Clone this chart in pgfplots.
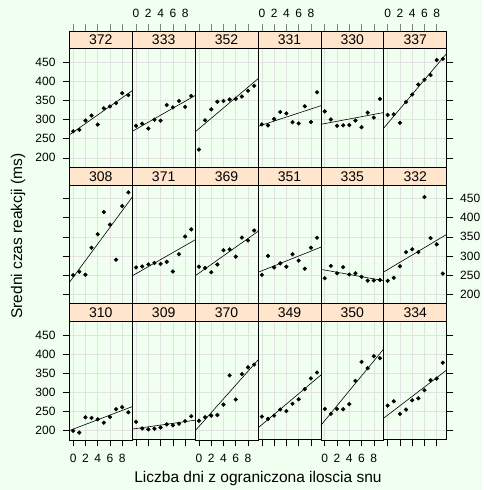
\documentclass[border=0pt]{standalone}
\usepackage{pgfplots}
\pgfplotsset{compat=1.18}
\usepackage{pgfplotstable}
\usepackage{fontspec}
\setmainfont{Liberation Sans}
\definecolor{bg}{RGB}{240,255,240}
\definecolor{stripc}{RGB}{255,229,204}
\definecolor{gridc}{RGB}{226,226,226}

\pgfplotstableread{
Days S308 S309 S310 S330 S331 S332 S333 S334 S335 S337 S349 S350 S351 S352 S369 S370 S371 S372
0 249.5600 222.7339 199.0539 321.5426 287.6079 234.8606 283.8424 264.9922 241.6083 312.3666 236.1032 256.2968 250.5265 221.6771 271.9235 225.2640 269.8804 269.4117
1 258.7047 205.2658 194.3322 300.4002 285.0000 242.8118 289.5550 276.2012 273.9472 313.8058 230.3167 243.4543 300.0576 298.1939 268.4369 234.5235 272.4428 273.4740
2 250.8006 202.9778 234.3200 283.8565 301.8206 272.9613 276.7693 243.3647 254.4907 291.6112 238.9256 256.2046 269.8939 326.8785 257.2424 238.9008 277.8989 297.5968
3 321.4398 204.7070 232.8416 285.1330 320.1153 309.7688 299.8097 254.6723 270.8021 346.1222 254.9220 255.5271 280.5891 346.8555 277.6566 240.4730 281.7895 310.6316
4 356.8519 207.7161 229.3074 285.7973 316.2773 317.4629 297.1710 279.0244 251.4519 365.7324 250.7103 268.9165 271.8274 348.7402 314.8222 267.5373 279.1705 287.1726
5 414.6901 215.9618 220.4579 297.5855 293.3187 309.9976 338.1665 284.1912 254.6362 391.8385 269.7744 329.7247 304.6336 352.8287 317.2135 344.1937 284.5120 329.6076
6 382.2038 213.6303 235.4208 280.2396 290.0750 454.1619 332.0265 305.5248 245.4523 404.2601 281.5648 379.4445 287.7466 354.4266 298.1353 281.1481 259.2658 334.4818
7 290.1486 217.7272 255.7511 318.2613 334.8177 346.8311 348.8399 331.5229 235.3110 416.6923 308.1020 362.9184 266.5955 360.4326 348.1229 347.5855 304.6306 343.2199
8 430.5853 224.2957 261.0125 305.3495 293.7469 330.3003 333.3600 335.7469 235.7541 455.8643 336.2806 394.4872 321.5418 375.6406 340.2800 365.1630 350.7807 369.1417
9 466.3535 237.3142 247.5153 354.0487 371.5811 253.8644 362.0428 377.2990 237.2466 458.9167 351.6451 389.0527 347.5655 388.5417 366.5131 372.2288 369.4692 364.1236
}\sleep

% least-squares line of each subject, evaluated at days -1 and 10
\pgfplotstableread{
x R308 R309 R310 R330 R331 R332 R333 R334 R335 R337 R349 R350 R351 R352 R369 R370 R371 R372
-1 222.43 202.79 197.37 286.68 280.47 254.68 265.88 227.91 265.92 271.08 201.62 206.33 254.71 262.81 243.62 192.39 244.45 255.75
10 461.84 227.67 264.63 319.77 338.40 359.92 366.44 362.69 234.22 480.36 350.05 420.87 325.48 412.04 368.45 391.01 345.52 380.03
}\fit

\pgfplotsset{
  panel/.style={
    scale only axis, width=62.9pt, height=118.5pt, anchor=south west,
    xmin=-0.63, xmax=9.63, ymin=175.3, ymax=485.4,
    xtick={0,2,4,6,8}, ytick={200,250,...,450},
    grid=major, grid style={gridc, line width=0.6pt},
    axis background/.style={fill=bg},
    axis line style={line width=0.8pt},
    tick align=outside, major tick length=6.5pt,
    x tick style={draw=none}, y tick style={draw=none},
    tick style={line width=0.6pt},
    /pgf/number format/assume math mode=true,
    tick label style={font=\fontsize{12}{14}\selectfont},
  },
  strip/.style={
    scale only axis, width=62.9pt, height=17.8pt, anchor=south west,
    xmin=-0.63, xmax=9.63, ymin=0, ymax=1,
    ytick=\empty, xtick=\empty,
    axis background/.style={fill=stripc},
    axis line style={line width=0.8pt},
    tick align=outside, major tick length=6.5pt,
    tick style={line width=0.6pt},
    /pgf/number format/assume math mode=true,
    tick label style={font=\fontsize{12}{14}\selectfont},
  },
  topticks/.style={xtick={0,2,4,6,8}, xtick pos=upper, xticklabel pos=upper,
    xticklabel style={yshift=3.5pt}},
  nox/.style={xticklabel=\empty},
  noy/.style={yticklabel=\empty},
  lefty/.style={ytick pos=left, y tick style={draw=black}, yticklabel style={xshift=-3.8pt}},
  righty/.style={ytick pos=right, yticklabel pos=right, y tick style={draw=black}, yticklabel style={xshift=3.5pt}},
  botx/.style={xtick pos=lower, x tick style={draw=black}, xticklabel style={yshift=-4pt}},
}

\newcommand{\panel}[5]{%
  \begin{axis}[panel, at={(#1pt,#2pt)}, #4]
    \addplot[only marks, mark=*, mark size=1.9pt, black] table[x=Days,y=S#3]{\sleep};
    \addplot[no marks, black, line width=0.6pt] table[x=x,y=R#3]{\fit};
  \end{axis}
  \begin{axis}[strip, at={(#1pt,#2pt+118.5pt)}, #5]
    \addplot[draw=none] coordinates {(0,0.5)};
    \node[font=\fontsize{14}{16}\selectfont] at (rel axis cs:0.5,0.5) {#3};
  \end{axis}%
}

\begin{document}
\begin{tikzpicture}
\fill[bg] (0,0) rectangle (482pt,490pt);
% top row
\panel{69.3}{322.7}{372}{lefty}{topticks,nox}
\panel{132.2}{322.7}{333}{noy,nox}{topticks}
\panel{195.1}{322.7}{352}{noy,nox}{topticks,nox}
\panel{258.0}{322.7}{331}{noy,nox}{topticks}
\panel{320.9}{322.7}{330}{noy,nox}{topticks,nox}
\panel{383.8}{322.7}{337}{righty,noy,nox}{topticks}
% middle row
\panel{69.3}{186.4}{308}{lefty,noy,nox}{}
\panel{132.2}{186.4}{371}{noy,nox}{}
\panel{195.1}{186.4}{369}{noy,nox}{}
\panel{258.0}{186.4}{351}{noy,nox}{}
\panel{320.9}{186.4}{335}{noy,nox}{}
\panel{383.8}{186.4}{332}{righty,nox}{}
% bottom row
\panel{69.3}{50.1}{310}{lefty,botx}{}
\panel{132.2}{50.1}{309}{noy,botx,nox}{}
\panel{195.1}{50.1}{370}{noy,botx}{}
\panel{258.0}{50.1}{349}{noy,botx,nox}{}
\panel{320.9}{50.1}{350}{noy,botx}{}
\panel{383.8}{50.1}{334}{righty,noy,botx,nox}{}
% axis labels
\node[font=\fontsize{15.5}{18}\selectfont] at (258pt,12pt) {Liczba dni z ograniczona iloscia snu};
\node[font=\fontsize{15.5}{18}\selectfont, rotate=90] at (18pt,254pt) {Sredni czas reakcji (ms)};
\end{tikzpicture}
\end{document}
